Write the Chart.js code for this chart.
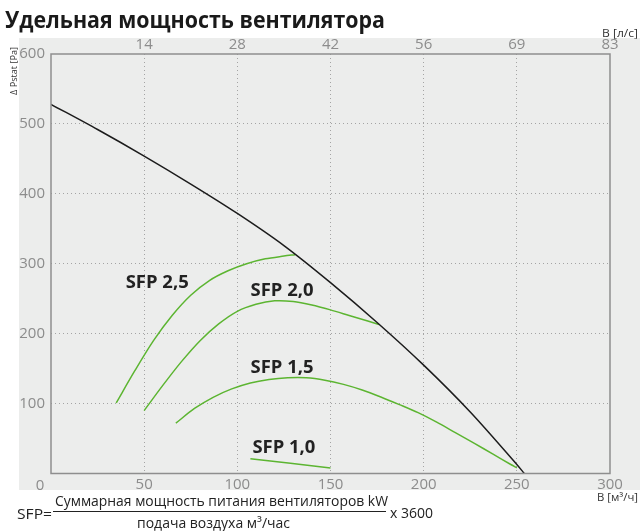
<!DOCTYPE html>
<html>
<head>
<meta charset="utf-8">
<script src="https://cdn.jsdelivr.net/npm/chart.js@4.4.0/dist/chart.umd.min.js"></script>
<style>
  body { margin: 0; background: #fff; }
  #chart { display: block; }
</style>
</head>
<body>
<canvas id="chart" width="640" height="531"></canvas>
<script>
// axis ticks
const xTickLabels = ['0', '50', '100', '150', '200', '250', '300'];
const topTickLabels = ['', '14', '28', '42', '56', '69', '83'];
const yTickLabels = ['', '100', '200', '300', '400', '500', '600'];

// fan curve, m3/h vs Pa
const fanFlow = [0, 25, 50, 75, 100, 125, 150, 175, 200, 225, 250, 254];
const fanPressure = [528, 492, 454, 414, 372, 326, 273, 216, 155, 88, 13, 0];

// SFP curves
const sfp25Flow = [35, 45, 55, 65, 75, 85, 95, 105, 115, 125, 131];
const sfp25Pressure = [101, 147, 190, 226, 255, 276, 290, 300, 307, 311, 313];
const sfp20Flow = [50, 60, 70, 80, 90, 100, 110, 120, 130, 140, 150, 160, 170, 176];
const sfp20Pressure = [90, 126, 160, 190, 214, 232, 242, 247, 246, 241, 234, 226, 218, 213];
const sfp15Flow = [67, 77, 87, 97, 107, 117, 127, 137, 147, 157, 167, 177, 187, 197, 207, 217, 227, 237, 247, 250];
const sfp15Pressure = [72, 93, 109, 121, 129.5, 134.5, 137, 137, 133.5, 127.5, 119.5, 109.5, 98.5, 87, 73.5, 58.5, 43.5, 28, 12.5, 8];
const sfp10Flow = [107, 150];
const sfp10Pressure = [21, 8];

const sfpNames = ['SFP 2,5', 'SFP 2,0', 'SFP 1,5', 'SFP 1,0'];
const sfpNameFlow = [57, 124, 124, 125];
const sfpNamePressure = [274, 263, 153, 38];

const GREEN = '#5cb531';
const FONT = '"Open Sans", "Noto Sans", sans-serif';

function toPoints(xs, ys) {
  return xs.map((x, i) => ({ x: x, y: ys[i] }));
}

function lineSet(xs, ys, color) {
  return {
    data: toPoints(xs, ys),
    borderColor: color,
    borderWidth: 1.5,
    pointRadius: 0,
    fill: false,
    tension: 0.3
  };
}

// draw text squeezed/stretched to a given width
function fitText(ctx, text, x, y, font, color, width, align) {
  ctx.save();
  ctx.font = font;
  ctx.fillStyle = color;
  ctx.textBaseline = 'alphabetic';
  ctx.textAlign = 'left';
  const w = ctx.measureText(text).width;
  const sx = width ? width / w : 1;
  let left = x;
  if (align === 'right') left = x - w * sx;
  if (align === 'center') left = x - w * sx / 2;
  ctx.translate(left, y);
  ctx.scale(sx, 1);
  ctx.fillText(text, 0, 0);
  ctx.restore();
}

const decor = {
  id: 'decor',
  beforeDraw(chart) {
    const ctx = chart.ctx;
    ctx.save();
    ctx.fillStyle = '#fff';
    ctx.fillRect(0, 0, chart.width, chart.height);
    ctx.fillStyle = '#ecedec';
    ctx.fillRect(19, 38, 621, 452);
    ctx.restore();
  },
  afterDraw(chart) {
    const ctx = chart.ctx;
    const a = chart.chartArea;
    const sx = chart.scales.x;
    const sy = chart.scales.y;

    ctx.save();
    ctx.strokeStyle = '#8e8e8e';
    ctx.lineWidth = 1.5;
    ctx.strokeRect(a.left, a.top, a.right - a.left, a.bottom - a.top);
    ctx.restore();

    // corner "0"
    fitText(ctx, xTickLabels[0], 40, 490, '15px ' + FONT, '#8c8c8c', 0, 'center');

    // curve names
    sfpNames.forEach((name, i) => {
      const px = sx.getPixelForValue(sfpNameFlow[i]);
      const py = sy.getPixelForValue(sfpNamePressure[i]);
      fitText(ctx, name, px, py + 6, 'bold 18px ' + FONT, '#222', 63, 'center');
    });

    // title and units
    fitText(ctx, 'Удельная мощность вентилятора', 5, 28, 'bold 23px ' + FONT, '#1a1a1a', 380, 'left');
    fitText(ctx, 'B [л/с]', 638, 37, '11px ' + FONT, '#333', 36, 'right');
    fitText(ctx, 'B [м³/ч]', 638, 501, '11px ' + FONT, '#333', 41, 'right');

    ctx.save();
    ctx.translate(17, 71);
    ctx.rotate(-Math.PI / 2);
    fitText(ctx, 'Δ Pstat [Pa]', 0, 0, '9px ' + FONT, '#333', 48, 'center');
    ctx.restore();

    // formula
    fitText(ctx, 'SFP=', 17, 519, '14px ' + FONT, '#222', 35, 'left');
    fitText(ctx, 'Суммарная мощность питания вентиляторов kW', 55, 506, '15px ' + FONT, '#222', 333, 'left');
    ctx.save();
    ctx.strokeStyle = '#222';
    ctx.lineWidth = 1;
    ctx.beginPath();
    ctx.moveTo(53, 511.5);
    ctx.lineTo(386, 511.5);
    ctx.stroke();
    ctx.restore();
    fitText(ctx, 'подача воздуха м³/час', 137, 528, '14px ' + FONT, '#222', 153, 'left');
    fitText(ctx, 'x 3600', 390, 518, '14px ' + FONT, '#222', 43, 'left');
  }
};

function edgeTick(ctx, lo, hi) {
  return ctx.tick && (ctx.tick.value === lo || ctx.tick.value === hi);
}

new Chart(document.getElementById('chart'), {
  type: 'line',
  data: {
    datasets: [
      lineSet(fanFlow, fanPressure, '#1c1c1c'),
      lineSet(sfp25Flow, sfp25Pressure, GREEN),
      lineSet(sfp20Flow, sfp20Pressure, GREEN),
      lineSet(sfp15Flow, sfp15Pressure, GREEN),
      lineSet(sfp10Flow, sfp10Pressure, GREEN)
    ]
  },
  options: {
    responsive: false,
    devicePixelRatio: 1,
    animation: false,
    events: [],
    layout: { padding: { left: 0, top: 0, right: 30, bottom: 37.5 } },
    plugins: { legend: { display: false }, tooltip: { enabled: false } },
    scales: {
      x: {
        type: 'linear',
        position: 'bottom',
        min: 0,
        max: 300,
        afterFit: s => { s.height = 20; },
        ticks: {
          stepSize: 50,
          autoSkip: false,
          maxRotation: 0,
          padding: 2,
          color: '#8c8c8c',
          font: { family: FONT, size: 15 },
          callback: (v, i) => (i === 0 ? '' : xTickLabels[i])
        },
        grid: {
          drawTicks: false,
          lineWidth: 1,
          color: c => (edgeTick(c, 0, 300) ? 'rgba(0,0,0,0)' : '#a4a4a4')
        },
        border: { display: false, dash: [1, 3] }
      },
      x2: {
        type: 'linear',
        position: 'top',
        min: 0,
        max: 300,
        afterFit: s => { s.height = 54; },
        ticks: {
          stepSize: 50,
          autoSkip: false,
          maxRotation: 0,
          padding: 0,
          color: '#8c8c8c',
          font: { family: FONT, size: 15 },
          callback: (v, i) => topTickLabels[i]
        },
        grid: { display: false, drawTicks: false },
        border: { display: false }
      },
      y: {
        min: 0,
        max: 600,
        afterFit: s => { s.width = 51; },
        ticks: {
          stepSize: 100,
          padding: 6,
          color: '#8c8c8c',
          font: { family: FONT, size: 15 },
          callback: (v, i) => yTickLabels[i]
        },
        grid: {
          drawTicks: false,
          lineWidth: 1,
          color: c => (edgeTick(c, 0, 600) ? 'rgba(0,0,0,0)' : '#a4a4a4')
        },
        border: { display: false, dash: [1, 3] }
      }
    }
  },
  plugins: [decor]
});
</script>
</body>
</html>
